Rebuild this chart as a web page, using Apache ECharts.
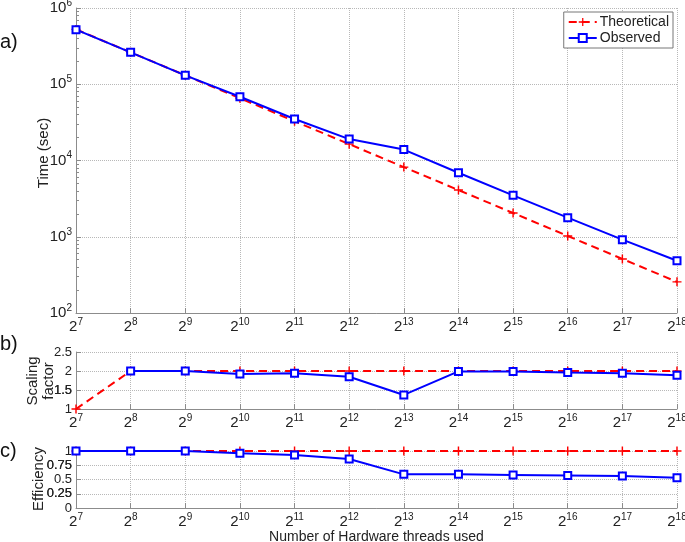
<!DOCTYPE html>
<html><head><meta charset="utf-8">
<script src="https://cdn.jsdelivr.net/npm/echarts@6/dist/echarts.min.js"></script>
<style>html,body{margin:0;padding:0;background:#fff}#c{width:685px;height:542px}</style>
</head><body><div id="c"></div>
<script>
// Data
var threadExponents = [7, 8, 9, 10, 11, 12, 13, 14, 15, 16, 17, 18];
var timeTheoretical = [524288, 262144, 131072, 65536, 32768, 16384, 8192, 4096, 2048, 1024, 512, 256];
var timeObserved = [520000, 262000, 131000, 68500, 35000, 19100, 13900, 6900, 3490, 1780, 915, 485];
var scalingTheoretical = [1, 2, 2, 2, 2, 2, 2, 2, 2, 2, 2, 2];
var scalingObserved = [null, 2, 2, 1.92, 1.94, 1.85, 1.37, 1.99, 1.99, 1.96, 1.94, 1.89];
var effTheoretical = [1, 1, 1, 1, 1, 1, 1, 1, 1, 1, 1, 1];
var effObserved = [1, 1, 1, 0.96, 0.93, 0.86, 0.59, 0.59, 0.58, 0.57, 0.56, 0.53];
var scalingTicks = [1, 1.5, 2, 2.5];
var effTicks = [0, 0.25, 0.5, 0.75, 1];
var scalingExtraLabels = [1.5];
var effExtraLabels = [0.25, 0.75];

var FONT = '"Liberation Sans", Arial, sans-serif';
var AXC = '#8c8c8c';
var plusPath = 'path://M4.2,0h1.6v4.2h4.2v1.6h-4.2v4.2h-1.6v-4.2h-4.2v-1.6h4.2z';
var rich = {
  b: {fontSize: 15, fontFamily: FONT, color: '#222'},
  s: {fontSize: 10, fontFamily: FONT, color: '#222', padding: [0, 0, 10, 0]}
};
function xAxisFor(i, showName) {
  return {
    type: 'category', gridIndex: i, data: threadExponents, boundaryGap: false,
    axisLine: {lineStyle: {color: AXC, width: 1}},
    axisTick: {inside: true, length: 5, interval: 0, lineStyle: {color: AXC}},
    axisLabel: {margin: 4, interval: 0, formatter: function (v) { return '{b|2}{s|' + v + '}'; }, rich: rich},
    splitLine: {show: true, interval: 0, lineStyle: {type: 'dotted', color: '#b8b8b8'}},
    name: showName ? 'Number of Hardware threads used' : '',
    nameLocation: 'middle', nameGap: 22,
    nameTextStyle: {fontSize: 14, fontFamily: FONT, color: '#222'}
  };
}
var ySplit = {show: true, lineStyle: {type: 'dotted', color: '#b8b8b8'}};
var yLine = {show: true, lineStyle: {color: AXC, width: 1}};
function yTick(vals) {
  var t = {show: true, inside: true, length: 5, lineStyle: {color: AXC}};
  if (vals) t.customValues = vals;
  return t;
}
function yLabel(vals) {
  return {fontSize: 13, lineHeight: 12, fontFamily: FONT, color: '#222', margin: 4, interval: 0,
    hideOverlap: false, showMinLabel: true, showMaxLabel: true, customValues: vals};
}
// secondary label-only axis sharing the same scale, showing only selected labels
function extraLabelAxis(grid, min, max, interval, only) {
  return {type: 'value', gridIndex: grid, position: 'left', offset: 0, min: min, max: max, interval: interval,
    axisLine: {show: false}, axisTick: {show: false}, splitLine: {show: false},
    axisLabel: {fontSize: 13, lineHeight: 12, fontFamily: FONT, color: '#222', margin: 4, interval: 0, hideOverlap: false,
      formatter: function (v) {
        for (var k = 0; k < only.length; k++) { if (Math.abs(v - only[k]) < 1e-9) return String(only[k]); }
        return '';
      }}};
}

function redSeries(x, data) {
  return {type: 'line', name: 'Theoretical', xAxisIndex: x, yAxisIndex: x, data: data,
    symbol: plusPath, symbolSize: 9, showSymbol: true,
    lineStyle: {color: '#ff0000', width: 2, type: [8, 5]},
    itemStyle: {color: '#ff0000'}, z: 3, animation: false};
}
function blueSeries(x, data) {
  return {type: 'line', name: 'Observed', xAxisIndex: x, yAxisIndex: x, data: data,
    symbol: 'emptyRect', symbolSize: 7, showSymbol: true, connectNulls: false,
    lineStyle: {color: '#0000ff', width: 2},
    itemStyle: {color: '#0000ff', borderColor: '#0000ff', borderWidth: 1.5}, z: 4, animation: false};
}
function vText(text, x, y) {
  return {type: 'text', x: x, y: y, rotation: Math.PI / 2,
    style: {text: text, font: '15px ' + FONT, fill: '#222', textAlign: 'center',
      verticalAlign: 'middle', textVerticalAlign: 'middle', lineHeight: 16}};
}

var chart = echarts.init(document.getElementById('c'), null, {renderer: 'canvas'});
chart.setOption({
  animation: false,
  backgroundColor: '#fff',
  grid: [
    {left: 76, right: 8, top: 8, bottom: 229, containLabel: false, outerBoundsMode: 'none'},
    {left: 76, right: 8, top: 352, bottom: 133, containLabel: false, outerBoundsMode: 'none'},
    {left: 76, right: 8, top: 451, bottom: 34, containLabel: false, outerBoundsMode: 'none'}
  ],
  xAxis: [xAxisFor(0, false), xAxisFor(1, false), xAxisFor(2, true)],
  yAxis: [
    {type: 'log', gridIndex: 0, position: 'left', logBase: 10, min: 100, max: 1000000,
     axisLine: yLine, axisTick: yTick(null), splitLine: ySplit,
     minorTick: {show: true, splitNumber: 9, length: 3, lineStyle: {color: AXC}},
     axisLabel: {margin: 4, formatter: function (v) {
        var e = Math.round(Math.log10(v)); return '{b|10}{s|' + e + '}'; }, rich: rich}},
    {type: 'value', gridIndex: 1, position: 'left', min: 1, max: 2.5, interval: 0.5,
     axisLine: yLine, axisTick: yTick(scalingTicks), splitLine: ySplit, axisLabel: yLabel(scalingTicks)},
    {type: 'value', gridIndex: 2, position: 'left', min: 0, max: 1, interval: 0.25,
     axisLine: yLine, axisTick: yTick(effTicks), splitLine: ySplit, axisLabel: yLabel(effTicks)},
    extraLabelAxis(1, 1, 2.5, 0.5, scalingExtraLabels),
    extraLabelAxis(2, 0, 1, 0.25, effExtraLabels)
  ],
  legend: {
    data: ['Theoretical', 'Observed'], orient: 'vertical', right: 12, top: 12,
    backgroundColor: '#fff', borderColor: '#777', borderWidth: 1, borderRadius: 0,
    padding: [3, 4, 3, 4], itemGap: 2, itemWidth: 28, itemHeight: 10,
    textStyle: {fontSize: 14, fontFamily: FONT, color: '#222', padding: [0, 0, 0, -2]}
  },
  graphic: [
    {type: 'text', left: 0, top: 32, style: {text: 'a)', font: '20px ' + FONT, fill: '#111'}},
    {type: 'text', left: 0, top: 334, style: {text: 'b)', font: '20px ' + FONT, fill: '#111'}},
    {type: 'text', left: 0, top: 441, style: {text: 'c)', font: '20px ' + FONT, fill: '#111'}},
    vText('Time (sec)', 44, 153),
    vText('Scaling\nfactor', 41, 381),
    vText('Efficiency', 39, 479)
  ],
  series: [
    redSeries(0, timeTheoretical), blueSeries(0, timeObserved),
    redSeries(1, scalingTheoretical), blueSeries(1, scalingObserved),
    redSeries(2, effTheoretical), blueSeries(2, effObserved)
  ]
});
</script></body></html>
